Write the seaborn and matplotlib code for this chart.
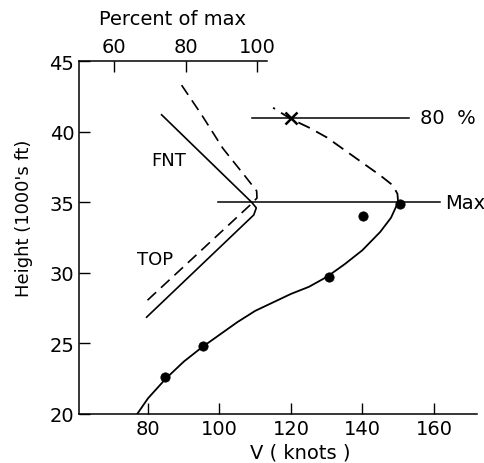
import seaborn as sns
import matplotlib.pyplot as plt
import pandas as pd

# wind profile (knots vs height in 1000's ft)
prof_v = [77, 80, 82.5, 85, 90, 95, 100, 105, 110, 115, 120, 125, 130, 135, 140, 145, 148, 150]
prof_h = [20, 21.1, 21.8, 22.5, 23.7, 24.7, 25.6, 26.5, 27.3, 27.9, 28.5, 29.0, 29.7, 30.6, 31.6, 32.9, 33.9, 35]

# dashed part above the max
above_v = [150, 149.8, 148.5, 145, 140, 135, 130, 125, 120, 115]
above_h = [35, 35.6, 36.2, 36.9, 37.8, 38.7, 39.6, 40.3, 40.9, 41.7]

# observations
obs_v = [84.8, 95.4, 130.7, 140.2, 150.6]
obs_h = [22.6, 24.8, 29.7, 34.0, 34.9]

# FNT / TOP (percent of max scale), solid and dashed
solid_v = [83.8, 109.0, 110.3, 109.6, 79.6]
solid_h = [41.2, 35.0, 34.6, 34.1, 26.85]
dash_v = [89.4, 95.0, 101.0, 107.0, 110.4, 110.5, 109.0, 79.2]
dash_h = [43.3, 41.2, 38.8, 36.9, 35.8, 35.3, 34.9, 27.9]

max_h = 35
max_line = [99.6, 161.8]
p80_h = 41
p80_line = [109, 153]
x80 = 120

pct_offset = 10.5

plt.rcParams['font.family'] = ['DejaVu Sans']
fig = plt.figure(figsize=(4.85, 4.64), dpi=100)
ax = fig.add_axes([0.163, 0.106, 0.82, 0.76])

sns.lineplot(x=prof_v, y=prof_h, sort=False, color="black", lw=1.3, ax=ax)
sns.lineplot(x=above_v, y=above_h, sort=False, color="black", lw=1.3, ax=ax)
ax.lines[-1].set_dashes([7, 4])
sns.lineplot(x=solid_v, y=solid_h, sort=False, color="black", lw=1.2, ax=ax)
sns.lineplot(x=dash_v, y=dash_h, sort=False, color="black", lw=1.2, ax=ax)
ax.lines[-1].set_dashes([7, 4])
sns.scatterplot(x=obs_v, y=obs_h, color="black", s=45, ax=ax, zorder=5, edgecolor="black")

ax.plot(max_line, [max_h, max_h], color="black", lw=1.1)
ax.plot(p80_line, [p80_h, p80_h], color="black", lw=1.1)
ax.plot([x80], [p80_h], marker="x", color="black", ms=9, mew=1.8)

ax.text(156.2, p80_h, "80  %", fontsize=14, va="center", ha="left")
ax.text(163.2, max_h, "Max", fontsize=14, va="center", ha="left")
ax.text(85.9, 38.0, "FNT", fontsize=13, va="center", ha="center")
ax.text(82.0, 31.0, "TOP", fontsize=13, va="center", ha="center")

ax.set_xlim(60.7, 172)
ax.set_ylim(20, 45)
ax.set_xticks([80, 100, 120, 140, 160])
ax.set_yticks([20, 25, 30, 35, 40, 45])
ax.tick_params(direction="in", length=8, width=1, labelsize=14)
ax.spines["right"].set_visible(False)
ax.spines["top"].set_visible(False)
for s in ["left", "bottom"]:
    ax.spines[s].set_linewidth(1.1)

sec = ax.secondary_xaxis("top", functions=(lambda x: x - pct_offset, lambda p: p + pct_offset))
sec.set_xticks([60, 80, 100])
sec.tick_params(direction="in", length=8, width=1, labelsize=14)
sec.spines["top"].set_bounds(60.7 - pct_offset, 113.3 - pct_offset)
sec.spines["top"].set_linewidth(1.1)

fig.text(0.355, 0.957, "Percent of max", fontsize=14, ha="center", va="center")
fig.text(0.62, 0.004, "V ( knots )", fontsize=14, ha="center", va="bottom")
fig.text(0.05, 0.53, "Height (1000's ft)", fontsize=13, ha="center", va="center", rotation=90)

fig.savefig("out.png", dpi=100)
